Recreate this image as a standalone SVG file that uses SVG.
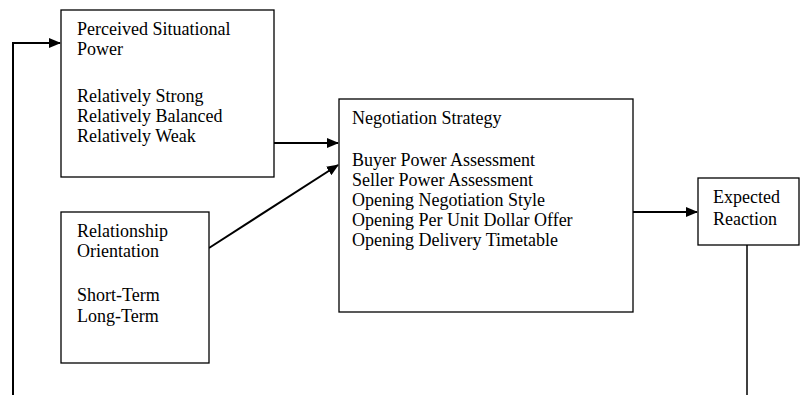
<svg xmlns="http://www.w3.org/2000/svg" width="800" height="395" viewBox="0 0 800 395">
<defs>
<style>
.box{fill:#fff;stroke:#000;stroke-width:1.3}
.t{font-family:"Liberation Serif","Times New Roman",serif;font-size:18px;fill:#000}
.c{fill:none;stroke:#000;stroke-width:2}
</style>
<marker id="ah" markerWidth="12" markerHeight="10" refX="11" refY="5" orient="auto" markerUnits="userSpaceOnUse">
<path d="M0,0 L12,5 L0,10 Z" fill="#000"/>
</marker>
</defs>
<rect width="800" height="395" fill="#fff"/>
<g id="connectors">
<path class="c" d="M13,395 V43 H60" marker-end="url(#ah)"/>
<path class="c" d="M274,143 H338" marker-end="url(#ah)"/>
<path class="c" d="M209,248 L338,165" marker-end="url(#ah)"/>
<path class="c" d="M633,212 H697" marker-end="url(#ah)"/>
<path class="c" style="stroke-width:1.5" d="M747,245 V395"/>
</g>
<g id="power">
<rect class="box" x="61" y="10" width="213" height="167"/>
<text class="t" x="77" y="35">Perceived Situational</text>
<text class="t" x="77" y="55">Power</text>
<text class="t" x="77" y="102">Relatively Strong</text>
<text class="t" x="77" y="122">Relatively Balanced</text>
<text class="t" x="77" y="142">Relatively Weak</text>
</g>
<g id="relationship">
<rect class="box" x="61" y="212" width="148" height="151"/>
<text class="t" x="77" y="237">Relationship</text>
<text class="t" x="77" y="257">Orientation</text>
<text class="t" x="77" y="301">Short-Term</text>
<text class="t" x="77" y="322">Long-Term</text>
</g>
<g id="strategy">
<rect class="box" x="339" y="99" width="294" height="213"/>
<text class="t" x="352" y="124">Negotiation Strategy</text>
<text class="t" x="352" y="166">Buyer Power Assessment</text>
<text class="t" x="352" y="186">Seller Power Assessment</text>
<text class="t" x="352" y="206">Opening Negotiation Style</text>
<text class="t" x="352" y="226">Opening Per Unit Dollar Offer</text>
<text class="t" x="352" y="246">Opening Delivery Timetable</text>
</g>
<g id="reaction">
<rect class="box" x="698" y="178" width="101" height="67"/>
<text class="t" x="713" y="203">Expected</text>
<text class="t" x="713" y="225">Reaction</text>
</g>
</svg>
